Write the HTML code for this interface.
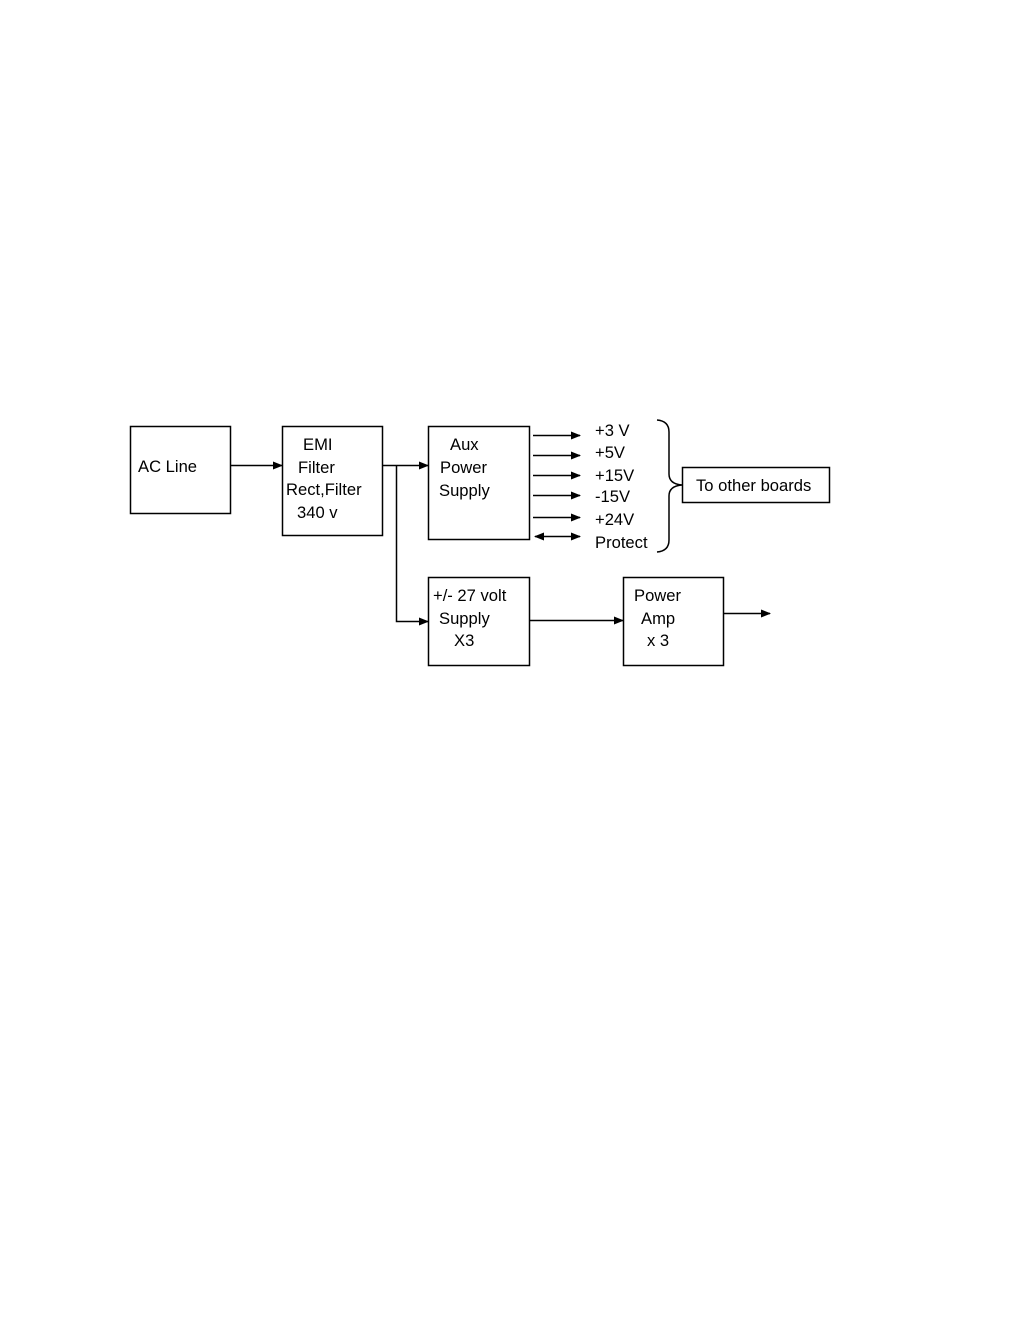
<!DOCTYPE html>
<html><head><meta charset="utf-8"><style>body{margin:0;background:#fff}svg{display:block}</style></head><body>
<svg width="1020" height="1320" xmlns="http://www.w3.org/2000/svg" font-family="Liberation Sans, sans-serif" font-size="16.6" fill="#000">
<defs><marker id="a" markerWidth="10" markerHeight="8" refX="9" refY="4" orient="auto-start-reverse" markerUnits="userSpaceOnUse"><path d="M0,0 L10,4 L0,8z" fill="#000"/></marker></defs>
<g fill="none" stroke="#000" stroke-width="1.5">
<rect x="130.5" y="426.5" width="100" height="87"/>
<rect x="282.5" y="426.5" width="100" height="109"/>
<rect x="428.5" y="426.5" width="101" height="113"/>
<rect x="428.5" y="577.5" width="101" height="88"/>
<rect x="623.5" y="577.5" width="100" height="88"/>
<rect x="682.5" y="467.5" width="147" height="35"/>
<line x1="230" y1="465.5" x2="282" y2="465.5" marker-end="url(#a)"/>
<line x1="382" y1="465.5" x2="428" y2="465.5" marker-end="url(#a)"/>
<polyline points="396.5,465.5 396.5,621.5 428,621.5" marker-end="url(#a)"/>
<line x1="529" y1="620.5" x2="623" y2="620.5" marker-end="url(#a)"/>
<line x1="723" y1="613.5" x2="770" y2="613.5" marker-end="url(#a)"/>
<line x1="533" y1="435.5" x2="580" y2="435.5" marker-end="url(#a)"/>
<line x1="533" y1="455.5" x2="580" y2="455.5" marker-end="url(#a)"/>
<line x1="533" y1="475.5" x2="580" y2="475.5" marker-end="url(#a)"/>
<line x1="533" y1="495.5" x2="580" y2="495.5" marker-end="url(#a)"/>
<line x1="533" y1="517.5" x2="580" y2="517.5" marker-end="url(#a)"/>
<line x1="535" y1="536.5" x2="580" y2="536.5" marker-start="url(#a)" marker-end="url(#a)"/>
<path d="M657,420 Q669,421 669,432 L669,474 Q669,484 682,485 Q669,486 669,496 L669,540 Q669,551 657,552"/>
</g>
<text x="138" y="472">AC Line</text>
<text x="303" y="450">EMI</text>
<text x="298" y="473">Filter</text>
<text x="286" y="495">Rect,Filter</text>
<text x="297" y="518">340 v</text>
<text x="450" y="450">Aux</text>
<text x="440" y="473">Power</text>
<text x="439" y="496">Supply</text>
<text x="433" y="601">+/- 27 volt</text>
<text x="439" y="624">Supply</text>
<text x="454" y="646">X3</text>
<text x="634" y="601">Power</text>
<text x="641" y="624">Amp</text>
<text x="647" y="646">x 3</text>
<text x="696" y="491">To other boards</text>
<text x="595" y="436">+3 V</text>
<text x="595" y="458">+5V</text>
<text x="595" y="481">+15V</text>
<text x="595" y="502">-15V</text>
<text x="595" y="525">+24V</text>
<text x="595" y="548">Protect</text>
</svg>
</body></html>
